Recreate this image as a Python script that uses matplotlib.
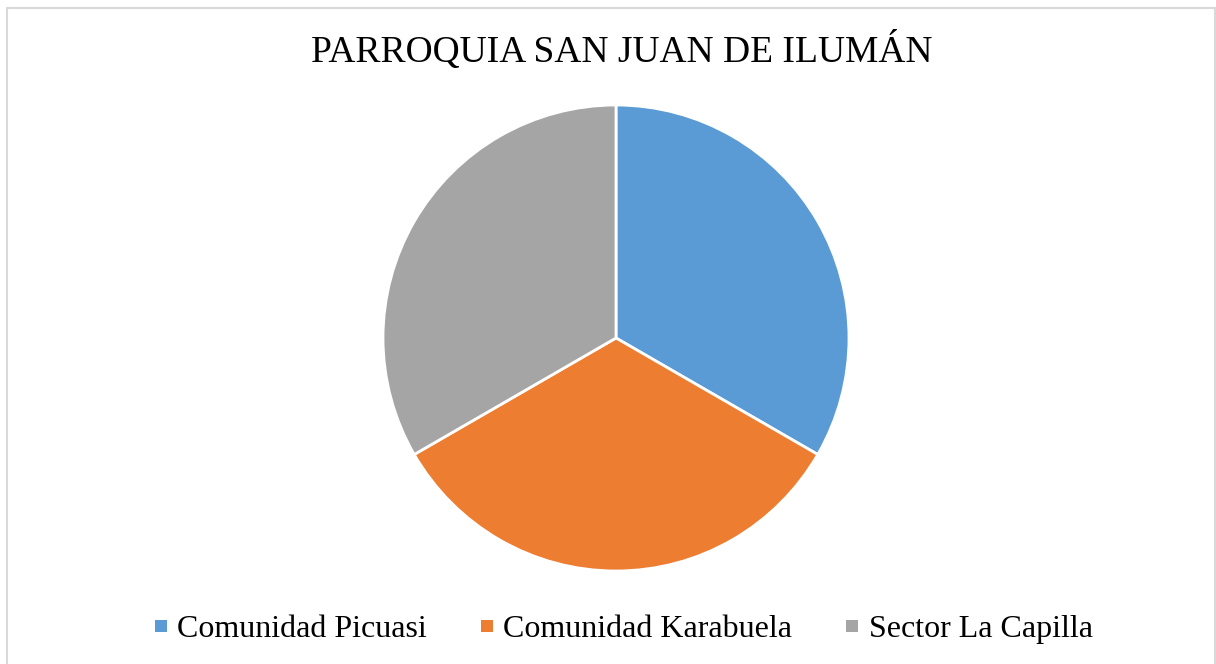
import matplotlib
matplotlib.use("Agg")
import matplotlib.pyplot as plt
from matplotlib.patches import Rectangle
from matplotlib.lines import Line2D

categories = ["Comunidad Picuasi", "Comunidad Karabuela", "Sector La Capilla"]
values = [1, 1, 1]
colors = ["#5B9BD5", "#ED7D31", "#A5A5A5"]
title = "PARROQUIA SAN JUAN DE ILUMÁN"

plt.rcParams['font.family'] = ['Liberation Serif', 'DejaVu Serif']

W, H = 1216, 664
fig = plt.figure(figsize=(W / 100, H / 100), dpi=100)

# chart border
fig.patches.append(Rectangle((7 / W, -0.01), (1215 - 7) / W, (H - 8) / H + 0.01,
                             transform=fig.transFigure, fill=False,
                             edgecolor="#D9D9D9", linewidth=1.5))

cx, cy, r = 616, 338, 233
ax = fig.add_axes([(cx - r) / W, 1 - (cy + r) / H, 2 * r / W, 2 * r / H])
wedges, _ = ax.pie(values, colors=colors, startangle=90, counterclock=False,
                   wedgeprops=dict(edgecolor="white", linewidth=2))
ax.set_xlim(-1, 1)
ax.set_ylim(-1, 1)
ax.set_aspect("auto")
ax.axis("off")

fig.text(622 / W, 1 - 51 / H, title, ha="center", va="center", fontsize=27, color="#000000")

handles = [Line2D([], [], linestyle="", marker="s", markersize=8.3, markerfacecolor=c,
                  markeredgewidth=0) for c in colors]
fig.legend(handles, categories, loc="center", bbox_to_anchor=(624 / W, 1 - 629 / H),
           ncol=3, frameon=False, fontsize=23, handlelength=0.34,
           handletextpad=0.35, columnspacing=1.7)

fig.savefig("out.png", dpi=100)
